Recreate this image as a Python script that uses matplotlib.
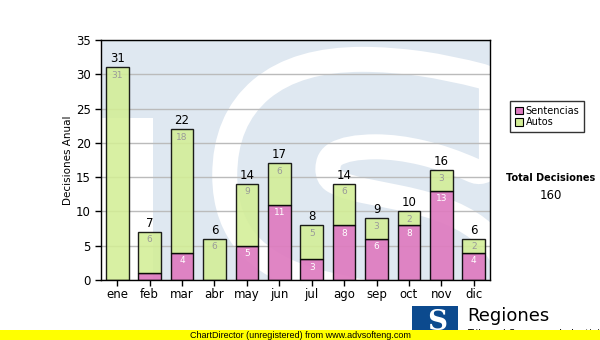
import matplotlib
matplotlib.use("Agg")
import matplotlib.pyplot as plt
import matplotlib.patheffects as pe
from matplotlib.patches import Patch, Rectangle

# monthly decisions
meses = ["ene", "feb", "mar", "abr", "may", "jun", "jul", "ago", "sep", "oct", "nov", "dic"]
sentencias = [0, 1, 4, 0, 5, 11, 3, 8, 6, 8, 13, 4]
autos = [31, 6, 18, 6, 9, 6, 5, 6, 3, 2, 3, 2]

PINK = "#de7bbf"
GREEN = "#d3ee96"
WATERMARK = "#dfe8f1"

W, H = 600, 340
fig = plt.figure(figsize=(W / 100, H / 100), dpi=100)


def fx(px):
    return px / W


def fy(py):
    return 1 - py / H


ax = fig.add_axes([fx(101), fy(280), fx(490) - fx(101), fy(40) - fy(280)])
ax.set_facecolor(WATERMARK)

# watermark logo behind the bars
ax.add_patch(Rectangle((0, 0), 0.134, 0.675, transform=ax.transAxes,
                       facecolor="white", edgecolor="none", zorder=0))
s = ax.text(0.69, -0.55, "S", transform=ax.transAxes, fontsize=330,
            family="DejaVu Sans", weight="bold", color=WATERMARK,
            ha="center", va="baseline", zorder=0, clip_on=True)
s.set_path_effects([pe.Stroke(linewidth=36, foreground="white"), pe.Normal()])

x = list(range(len(meses)))
totales = [a + b for a, b in zip(sentencias, autos)]

ax.grid(axis="y", color="#bbbbbb", linewidth=1, zorder=1)
ax.set_axisbelow(True)
ax.bar(x, sentencias, width=0.7, color=PINK, edgecolor="black", linewidth=1,
       alpha=0.92, zorder=2)
ax.bar(x, autos, width=0.7, bottom=sentencias, color=GREEN, edgecolor="black",
       linewidth=1, alpha=0.88, zorder=2)

for i in x:
    ax.annotate(str(totales[i]), (i, totales[i]), xytext=(0, 1.5),
                textcoords="offset points", ha="center", va="bottom",
                fontsize=8.5, zorder=4)
    ax.annotate(str(autos[i]), (i, totales[i]), xytext=(0, -2.5),
                textcoords="offset points", ha="center", va="top",
                fontsize=6.5, color="#9a9a9a", zorder=4)
    if sentencias[i] >= 2:
        ax.annotate(str(sentencias[i]), (i, sentencias[i]), xytext=(0, -2.5),
                    textcoords="offset points", ha="center", va="top",
                    fontsize=6.5, color="white", zorder=4)

ax.set_xlim(-0.5, len(meses) - 0.5)
ax.set_ylim(0, 35)
ax.set_yticks(range(0, 36, 5))
ax.set_xticks(x)
ax.set_xticklabels(meses)
ax.tick_params(axis="both", labelsize=8.5, length=4, width=1, direction="out")
ax.tick_params(axis="x", pad=2)
for sp in ax.spines.values():
    sp.set_linewidth(1)
    sp.set_zorder(5)
ax.set_ylabel("Decisiones Anual", fontsize=7.5)
ax.yaxis.set_label_coords(-0.072, 0.5)

# legend and totals on the right
handles = [Patch(facecolor=PINK, edgecolor="black", linewidth=0.8, label="Sentencias"),
           Patch(facecolor=GREEN, edgecolor="black", linewidth=0.8, label="Autos")]
leg = fig.legend(handles=handles, loc="upper left", bbox_to_anchor=(fx(510), fy(101)),
                 fontsize=7, frameon=True, fancybox=False, handlelength=0.8,
                 handleheight=0.8, handletextpad=0.3, labelspacing=0.15,
                 borderpad=0.5, borderaxespad=0)
leg.get_frame().set_edgecolor("black")
leg.get_frame().set_linewidth(1)

fig.text(fx(551), fy(178), "Total Decisiones", fontsize=7, weight="bold",
         ha="center", va="center")
fig.text(fx(551), fy(196), str(sum(totales)), fontsize=8.5, ha="center", va="center")

# footer logo
fig.patches.append(Rectangle((fx(412), fy(336)), fx(46), fy(306) - fy(336),
                             transform=fig.transFigure, facecolor="#0c4a8e",
                             edgecolor="none"))
fig.text(fx(437), fy(322), "S", fontsize=20, family="DejaVu Serif", weight="bold",
         color="white", ha="center", va="center")
fig.text(fx(467), fy(316), "Regiones", fontsize=13, ha="left", va="center")
fig.text(fx(467), fy(334), "Tribunal Supremo de Justicia", fontsize=7, ha="left",
         va="center")

# yellow banner across the bottom
fig.patches.append(Rectangle((0, 0), 1, fy(330), transform=fig.transFigure,
                             facecolor="#ffff00", edgecolor="none", zorder=10))
fig.text(fx(300), fy(335), "ChartDirector (unregistered) from www.advsofteng.com",
         fontsize=6.5, family="Liberation Sans", ha="center", va="center", zorder=11)

fig.savefig("out.png", dpi=100)
